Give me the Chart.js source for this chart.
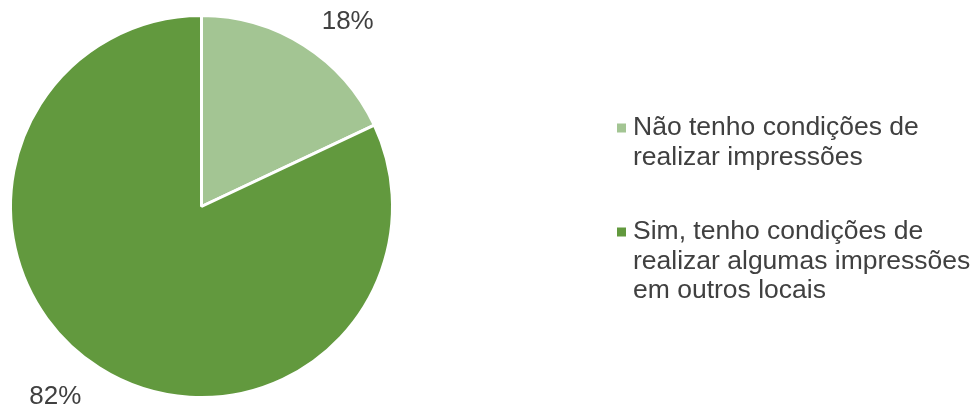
<!DOCTYPE html>
<html>
<head>
<meta charset="utf-8">
<script src="https://cdn.jsdelivr.net/npm/chart.js@4"></script>
<style>
  html, body { margin: 0; padding: 0; background: #ffffff; }
  #wrap { width: 977px; height: 408px; position: relative; }
</style>
</head>
<body>
<div id="wrap"><canvas id="pieChart" width="977" height="408"></canvas></div>
<script>
// Data
const categories = [
    ['Não tenho condições de', 'realizar impressões'],
    ['Sim, tenho condições de', 'realizar algumas impressões', 'em outros locais']
];
const shares = [18, 82];
const sliceColors = ['#a3c593', '#62993e'];

const FONT = "'Liberation Sans', Arial, sans-serif";
const TEXT = '#404040';

// Percent labels outside the slices (best-fit style, nudged clockwise)
const outsideLabels = {
    id: 'outsideLabels',
    afterDatasetsDraw(chart) {
        const ctx = chart.ctx;
        const meta = chart.getDatasetMeta(0);
        ctx.save();
        ctx.font = '26px ' + FONT;
        ctx.fillStyle = TEXT;
        ctx.textAlign = 'center';
        ctx.textBaseline = 'middle';
        meta.data.forEach((arc, i) => {
            const mid = (arc.startAngle + arc.endAngle) / 2 + 5.5 * Math.PI / 180;
            const r = arc.outerRadius + 47;
            const x = arc.x + Math.cos(mid) * r;
            const y = arc.y + Math.sin(mid) * r + 3;
            ctx.fillText(shares[i] + '%', x, y);
        });
        ctx.restore();
    }
};

// Legend on the right with wrapped lines
const sideLegend = {
    id: 'sideLegend',
    afterDraw(chart) {
        const ctx = chart.ctx;
        const startY = [128, 232];
        const lineH = 29.5;
        ctx.save();
        ctx.font = '26.5px ' + FONT;
        ctx.textBaseline = 'middle';
        ctx.textAlign = 'left';
        categories.forEach((lines, i) => {
            ctx.fillStyle = sliceColors[i];
            ctx.fillRect(617, startY[i] - 4.5, 9, 9);
            ctx.fillStyle = TEXT;
            lines.forEach((t, j) => ctx.fillText(t, 633, startY[i] + j * lineH));
        });
        ctx.restore();
    }
};

new Chart(document.getElementById('pieChart').getContext('2d'), {
    type: 'pie',
    data: {
        labels: categories.map(c => c.join(' ')),
        datasets: [{
            data: shares,
            backgroundColor: sliceColors,
            borderColor: '#ffffff',
            borderWidth: 3
        }]
    },
    options: {
        responsive: false,
        animation: false,
        layout: { padding: { left: 9, top: 14, right: 583, bottom: 9 } },
        plugins: { legend: { display: false }, tooltip: { enabled: false } }
    },
    plugins: [outsideLabels, sideLegend]
});
</script>
</body>
</html>
